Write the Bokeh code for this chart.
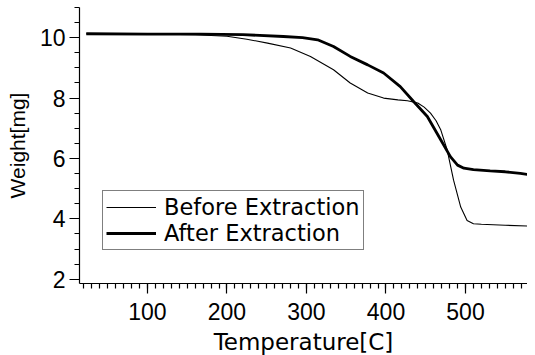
from bokeh.plotting import figure
from bokeh.models import Range1d, SingleIntervalTicker, Legend, LegendItem
from bokeh.embed import file_html
from bokeh.resources import INLINE

# Data
before_T = [23, 100, 160, 200, 225, 251, 280, 305, 334, 355, 377, 397, 415, 427, 440,
            448, 456, 463, 469, 477, 485, 494, 502, 510, 520, 550, 580]
before_W = [10.13, 10.12, 10.10, 10.05, 9.95, 9.82, 9.66, 9.38, 8.94, 8.50, 8.17, 8.00,
            7.94, 7.91, 7.84, 7.70, 7.50, 7.25, 6.94, 6.28, 5.28, 4.39, 3.95, 3.84, 3.82,
            3.79, 3.76]

after_T = [23, 100, 167, 220, 271, 295, 314, 334, 355, 377, 397, 418, 435, 452, 469,
           481, 490, 498, 510, 531, 550, 569, 582]
after_W = [10.13, 10.12, 10.12, 10.10, 10.04, 10.00, 9.93, 9.71, 9.38, 9.10, 8.83, 8.38,
           7.88, 7.39, 6.61, 6.06, 5.78, 5.68, 5.63, 5.59, 5.56, 5.51, 5.45]

x_label = "Temperature[C]"
y_label = "Weight[mg]"
series_names = ["Before Extraction", "After Extraction"]

p = figure(frame_width=448, frame_height=276,
           x_range=Range1d(14.5, 578), y_range=Range1d(1.86, 11.0),
           output_backend="svg", toolbar_location=None,
           min_border_left=79, min_border_right=0, min_border_top=7, min_border_bottom=5)
p.outline_line_color = None
p.xgrid.visible = False
p.ygrid.visible = False
p.background_fill_color = "white"
p.border_fill_color = "white"

r1 = p.line(before_T, before_W, line_color="black", line_width=1.1)
r2 = p.line(after_T, after_W, line_color="black", line_width=2.8)

xa = p.xaxis[0]
xa.ticker = SingleIntervalTicker(interval=100, num_minor_ticks=10)
ya = p.yaxis[0]
ya.ticker = SingleIntervalTicker(interval=2, num_minor_ticks=4)

for ax in (xa, ya):
    ax.axis_line_color = "black"
    ax.axis_line_width = 1.2
    ax.major_tick_line_color = "black"
    ax.minor_tick_line_color = "black"
    ax.major_tick_line_width = 1.2
    ax.minor_tick_line_width = 1.2
    ax.major_tick_in = 0
    ax.major_tick_out = 10
    ax.minor_tick_in = 0
    ax.minor_tick_out = 5
    ax.major_label_text_font = "Liberation Sans"
    ax.major_label_text_font_size = "23px"
    ax.major_label_text_color = "black"
    ax.axis_label_text_font_style = "normal"
    ax.axis_label_text_color = "black"

xa.axis_label = x_label
xa.axis_label_text_font = "DejaVu Sans"
xa.axis_label_text_font_size = "23px"
xa.axis_label_standoff = 6
xa.major_label_standoff = 9

ya.axis_label = y_label
ya.axis_label_text_font = "Liberation Sans"
ya.axis_label_text_font_size = "21px"
ya.axis_label_standoff = 8
ya.major_label_standoff = 4

legend = Legend(items=[LegendItem(label=series_names[0], renderers=[r1]),
                       LegendItem(label=series_names[1], renderers=[r2])],
                location=(23, 33), padding=3, spacing=0, margin=0,
                glyph_width=50, glyph_height=20, label_height=20, label_standoff=8,
                label_text_font="DejaVu Sans", label_text_font_size="22.5px",
                label_text_color="black",
                border_line_color="black", border_line_width=1.2,
                background_fill_alpha=1.0)
p.add_layout(legend, "center")

open("out.html", "w").write(file_html(p, INLINE))
